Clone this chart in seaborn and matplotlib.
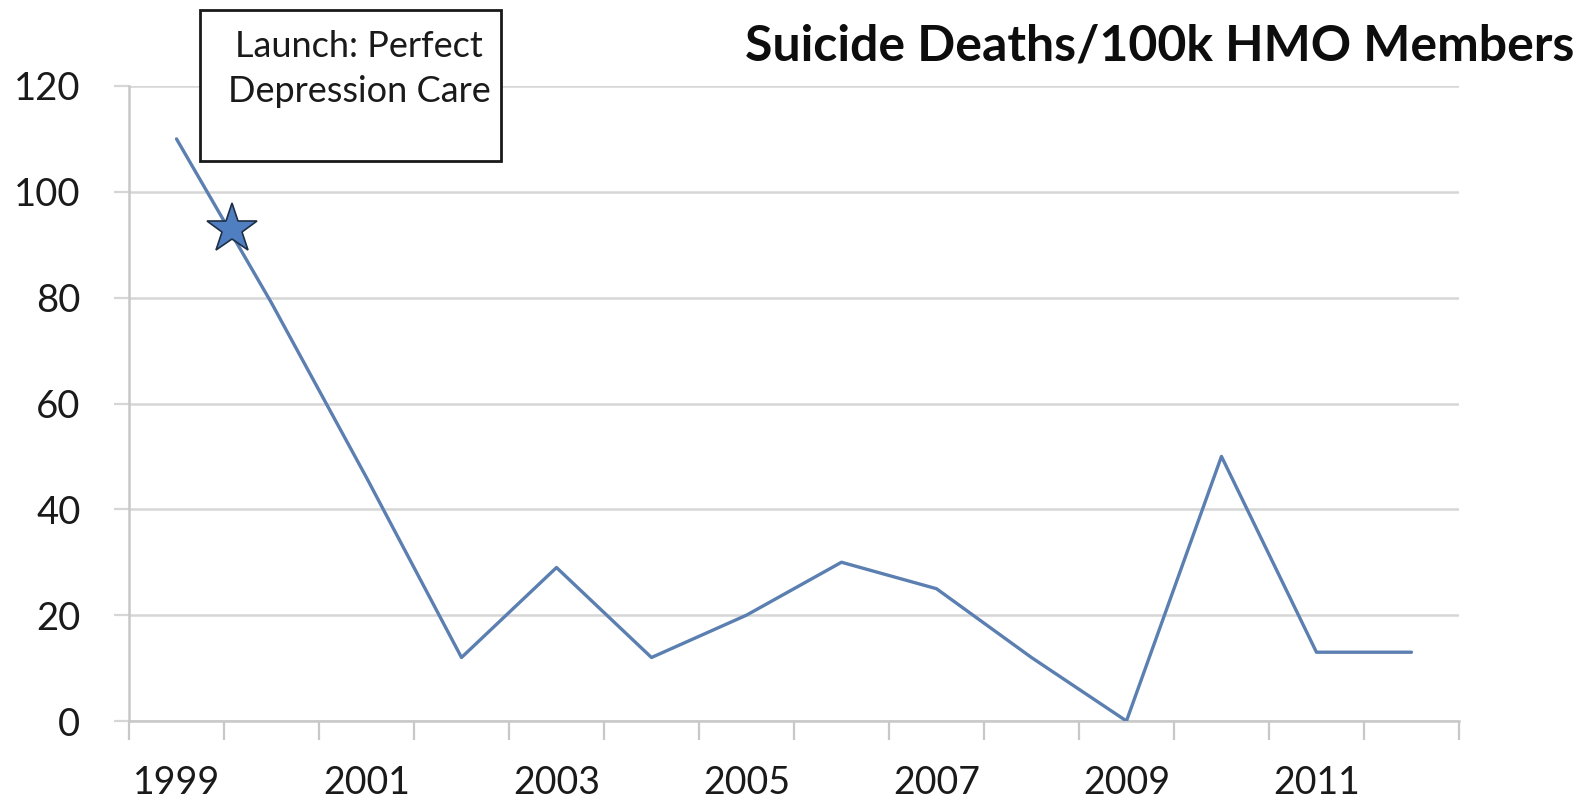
import numpy as np
import pandas as pd
import matplotlib
matplotlib.use("Agg")
import matplotlib.pyplot as plt
from matplotlib.patches import Rectangle
import seaborn as sns

# Data
years = [1999, 2000, 2001, 2002, 2003, 2004, 2005, 2006, 2007, 2008, 2009, 2010, 2011, 2012]
deaths = [110, 79, 46, 12, 29, 12, 20, 30, 25, 12, 0, 50, 13, 13]
label_years = [1999, 2001, 2003, 2005, 2007, 2009, 2011]
y_ticks = [0, 20, 40, 60, 80, 100, 120]
launch_x = 1999.58
launch_y = 93

title = "Suicide Deaths/100k HMO Members"
note = "Launch: Perfect\nDepression Care"

sns.set_theme(style="white")
plt.rcParams["font.family"] = ["Lato", "DejaVu Sans"]

fig = plt.figure(figsize=(15.81, 8.0), dpi=100)
ax = fig.add_axes([0.0816, 0.09875, 0.8412, 0.79375])

df = pd.DataFrame({"year": years, "deaths": deaths})
line_color = "#5A7FB0"
sns.lineplot(data=df, x="year", y="deaths", ax=ax, color=line_color,
             linewidth=2.4, zorder=3)

# launch marker
ax.plot([launch_x], [launch_y], marker="*", markersize=38,
        markerfacecolor="#4F7FC0", markeredgecolor="#1F2F45",
        markeredgewidth=1.2, linestyle="none", zorder=4, clip_on=False)

ax.set_xlim(1998.5, 2012.5)
ax.set_ylim(0, 120)
ax.set_yticks(y_ticks)
ax.set_yticklabels([str(v) for v in y_ticks])
ax.yaxis.grid(True, color="#D6D6D6", linewidth=1.8)
ax.set_axisbelow(True)

# category boundaries as tick marks, labels every other year
ax.set_xticks(np.arange(1998.5, 2013.0, 1.0), minor=True)
ax.set_xticks(label_years)
ax.set_xticklabels([str(y) for y in label_years])
ax.tick_params(axis="x", which="major", length=0, pad=32, labelsize=27,
               labelcolor="#1A1A1A")
ax.tick_params(axis="x", which="minor", length=14, width=1.6,
               color="#C8C8C8", direction="out", bottom=True)
ax.tick_params(axis="y", which="major", length=11, width=1.6,
               color="#D6D6D6", direction="out", left=True, pad=24,
               labelsize=27.5, labelcolor="#1A1A1A")

ax.set_xlabel("")
ax.set_ylabel("")
for side in ["top", "right"]:
    ax.spines[side].set_visible(False)
ax.spines["left"].set_color("#C8C8C8")
ax.spines["left"].set_linewidth(1.8)
ax.spines["bottom"].set_color("#C8C8C8")
ax.spines["bottom"].set_linewidth(1.8)

# title
fig.text(0.9955, 0.924, title, ha="right", va="baseline",
         fontsize=36, fontweight="bold", color="#0D0D0D")

# annotation box
fig.patches.append(Rectangle((200 / 1581, 1 - 161 / 800), 301 / 1581, 151 / 800,
                             transform=fig.transFigure, facecolor="white",
                             edgecolor="#1A1A1A", linewidth=2, zorder=5))
fig.text(359 / 1581, 1 - 69 / 800, note, ha="center", va="center",
         fontsize=26, color="#1A1A1A", linespacing=1.45, zorder=6)

fig.savefig("out.png", dpi=100)
